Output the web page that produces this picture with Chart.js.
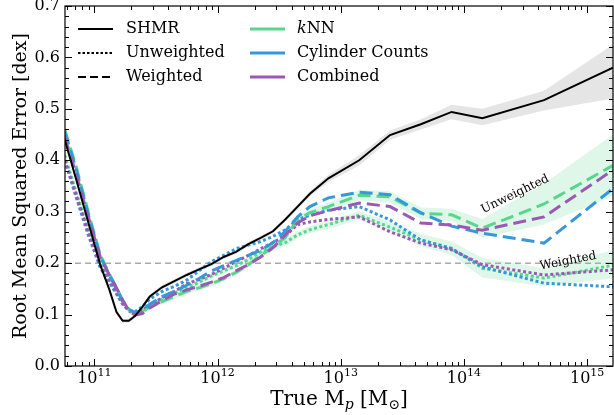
<!DOCTYPE html>
<html>
<head>
<meta charset="utf-8">
<script src="https://cdn.jsdelivr.net/npm/chart.js@4"></script>
<style>
  body { margin: 0; background: #fff; }
  #wrap { width: 614px; height: 415px; }
</style>
</head>
<body>
<div id="wrap"><canvas id="chart" width="614" height="415"></canvas></div>
<script>
// log10 of true mass (bin centres)
const logMass = [10.76, 10.85, 10.95, 11.05, 11.12, 11.18, 11.23, 11.28, 11.33, 11.39,
                 11.45, 11.55, 11.65, 11.75, 11.85, 11.95, 12.05, 12.15, 12.25, 12.35,
                 12.45, 12.55, 12.65, 12.75, 12.9, 13.15, 13.4, 13.65, 13.9, 14.15,
                 14.65, 15.21];

const shmr = [0.44, 0.365, 0.28, 0.195, 0.15, 0.105, 0.088, 0.088, 0.097, 0.115,
              0.135, 0.153, 0.165, 0.177, 0.188, 0.198, 0.212, 0.222, 0.237, 0.249,
              0.262, 0.285, 0.31, 0.335, 0.365, 0.40, 0.449, 0.47, 0.494, 0.482,
              0.517, 0.58];
const shmrLow = [0.436, 0.361, 0.276, 0.191, 0.146, 0.101, 0.084, 0.084, 0.093, 0.111,
                 0.131, 0.149, 0.161, 0.173, 0.184, 0.194, 0.208, 0.218, 0.233, 0.245,
                 0.258, 0.281, 0.305, 0.33, 0.358, 0.39, 0.44, 0.46, 0.48, 0.468,
                 0.497, 0.52];
const shmrHigh = [0.444, 0.369, 0.284, 0.199, 0.154, 0.109, 0.092, 0.092, 0.101, 0.119,
                  0.139, 0.157, 0.169, 0.181, 0.192, 0.202, 0.216, 0.226, 0.241, 0.253,
                  0.266, 0.289, 0.315, 0.34, 0.372, 0.41, 0.458, 0.48, 0.508, 0.50,
                  0.535, 0.625];

// weighted = dashed, unweighted = dotted
const knnWeighted = [0.46, 0.39, 0.30, 0.215, 0.18, 0.152, 0.128, 0.11, 0.102, 0.105,
                     0.115, 0.125, 0.135, 0.145, 0.152, 0.16, 0.17, 0.182, 0.197, 0.215,
                     0.232, 0.25, 0.285, 0.298, 0.31, 0.332, 0.329, 0.297, 0.294, 0.268,
                     0.315, 0.39];
const knnWeightedLow = [0.455, 0.385, 0.295, 0.21, 0.175, 0.147, 0.123, 0.105, 0.097, 0.1,
                        0.11, 0.12, 0.13, 0.14, 0.147, 0.155, 0.165, 0.177, 0.192, 0.21,
                        0.226, 0.244, 0.278, 0.291, 0.302, 0.322, 0.318, 0.286, 0.282, 0.25,
                        0.275, 0.33];
const knnWeightedHigh = [0.465, 0.395, 0.305, 0.22, 0.185, 0.157, 0.133, 0.115, 0.107, 0.11,
                         0.12, 0.13, 0.14, 0.15, 0.157, 0.165, 0.175, 0.187, 0.202, 0.22,
                         0.238, 0.256, 0.292, 0.305, 0.318, 0.342, 0.34, 0.308, 0.306, 0.286,
                         0.355, 0.45];
const knnUnweighted = [0.41, 0.34, 0.265, 0.2, 0.17, 0.145, 0.123, 0.108, 0.104, 0.108,
                       0.118, 0.13, 0.142, 0.152, 0.163, 0.175, 0.185, 0.195, 0.207, 0.222,
                       0.232, 0.24, 0.255, 0.265, 0.275, 0.293, 0.27, 0.245, 0.229, 0.19,
                       0.171, 0.196];
const knnUnweightedLow = [0.405, 0.335, 0.26, 0.195, 0.165, 0.14, 0.118, 0.103, 0.099, 0.103,
                          0.113, 0.125, 0.137, 0.147, 0.158, 0.17, 0.18, 0.19, 0.202, 0.216,
                          0.225, 0.233, 0.248, 0.258, 0.267, 0.285, 0.26, 0.233, 0.216, 0.172,
                          0.155, 0.17];
const knnUnweightedHigh = [0.415, 0.345, 0.27, 0.205, 0.175, 0.15, 0.128, 0.113, 0.109, 0.113,
                           0.123, 0.135, 0.147, 0.157, 0.168, 0.18, 0.19, 0.2, 0.212, 0.228,
                           0.239, 0.247, 0.262, 0.272, 0.283, 0.301, 0.28, 0.257, 0.242, 0.21,
                           0.19, 0.225];

const cylWeighted = [0.455, 0.385, 0.295, 0.212, 0.178, 0.15, 0.126, 0.11, 0.104, 0.108,
                     0.12, 0.135, 0.145, 0.157, 0.17, 0.185, 0.195, 0.205, 0.215, 0.225,
                     0.24, 0.262, 0.29, 0.31, 0.327, 0.338, 0.333, 0.298, 0.272, 0.258,
                     0.239, 0.345];
const cylUnweighted = [0.40, 0.33, 0.255, 0.19, 0.163, 0.14, 0.12, 0.108, 0.106, 0.115,
                       0.13, 0.145, 0.155, 0.167, 0.185, 0.203, 0.215, 0.228, 0.235, 0.242,
                       0.252, 0.265, 0.285, 0.293, 0.303, 0.31, 0.284, 0.245, 0.228, 0.193,
                       0.161, 0.154];

const combWeighted = [0.445, 0.375, 0.29, 0.21, 0.178, 0.152, 0.128, 0.108, 0.099, 0.102,
                      0.113, 0.127, 0.14, 0.148, 0.155, 0.163, 0.172, 0.185, 0.197, 0.212,
                      0.23, 0.255, 0.278, 0.292, 0.302, 0.317, 0.31, 0.278, 0.274, 0.264,
                      0.29, 0.381];
const combUnweighted = [0.40, 0.335, 0.26, 0.195, 0.167, 0.143, 0.122, 0.107, 0.102, 0.108,
                        0.118, 0.133, 0.145, 0.16, 0.168, 0.178, 0.19, 0.203, 0.215, 0.228,
                        0.24, 0.253, 0.275, 0.28, 0.285, 0.29, 0.261, 0.239, 0.226, 0.197,
                        0.177, 0.187];

const refLevel = 0.2;
const yTicks = [0, 0.1, 0.2, 0.3, 0.4, 0.5, 0.6, 0.7];
const yTickLabels = ['0.0', '0.1', '0.2', '0.3', '0.4', '0.5', '0.6', '0.7'];
const xTickExps = [11, 12, 13, 14, 15];
const xMinLog = 10.762, xMaxLog = 15.21;

const GREEN = '#58d68d', BLUE = '#3498db', PURPLE = '#9b59b6';
const DASH = [13, 6], DOT = [3, 2.5];
const SERIF = '"DejaVu Serif", serif';

const pts = arr => arr.map((v, i) => ({ x: Math.pow(10, logMass[i]), y: v }));

function line(arr, color, dash, width, order) {
    return {
        data: pts(arr), borderColor: color, borderDash: dash, borderWidth: width,
        pointRadius: 0, fill: false, tension: 0, order: order
    };
}
function bandEdge(arr, fillColor) {
    return {
        data: pts(arr), borderWidth: 0, pointRadius: 0, tension: 0, order: 50,
        fill: fillColor ? '-1' : false, backgroundColor: fillColor || 'transparent'
    };
}

const overlay = {
    id: 'overlay',
    afterDraw(chart) {
        const ctx = chart.ctx, a = chart.chartArea;
        const xs = chart.scales.x, ys = chart.scales.y;
        ctx.save();
        ctx.strokeStyle = '#000';
        ctx.lineWidth = 1.2;
        ctx.strokeRect(a.left, a.top, a.right - a.left, a.bottom - a.top);

        // y ticks
        ctx.lineWidth = 1;
        ctx.beginPath();
        for (let k = 0; k <= 35; k++) {
            const v = k * 0.02;
            const py = Math.round(ys.getPixelForValue(v)) + 0.5;
            const len = (k % 5 === 0) ? 7 : 4;
            ctx.moveTo(a.left, py); ctx.lineTo(a.left + len, py);
            ctx.moveTo(a.right, py); ctx.lineTo(a.right - len, py);
        }
        // x ticks
        for (let e = 10; e <= 15; e++) {
            for (let m = 1; m <= 9; m++) {
                const lv = e + Math.log10(m);
                if (lv < xMinLog || lv > xMaxLog) continue;
                const px = Math.round(xs.getPixelForValue(Math.pow(10, lv))) + 0.5;
                const len = (m === 1) ? 7 : 4;
                ctx.moveTo(px, a.bottom); ctx.lineTo(px, a.bottom - len);
                ctx.moveTo(px, a.top); ctx.lineTo(px, a.top + len);
            }
        }
        ctx.stroke();

        ctx.fillStyle = '#000';
        // y labels
        ctx.font = '16px ' + SERIF;
        ctx.textAlign = 'right';
        ctx.textBaseline = 'middle';
        yTicks.forEach((v, i) => ctx.fillText(yTickLabels[i], a.left - 5, ys.getPixelForValue(v)));

        // x labels 10^n
        ctx.textAlign = 'left';
        ctx.textBaseline = 'alphabetic';
        xTickExps.forEach(e => {
            const px = xs.getPixelForValue(Math.pow(10, e));
            ctx.font = '16px ' + SERIF;
            const w1 = ctx.measureText('10').width;
            ctx.font = '11px ' + SERIF;
            const w2 = ctx.measureText(String(e)).width;
            const x0 = px - (w1 + w2) / 2;
            ctx.font = '16px ' + SERIF;
            ctx.fillText('10', x0, a.bottom + 17);
            ctx.font = '11px ' + SERIF;
            ctx.fillText(String(e), x0 + w1, a.bottom + 10);
        });

        // y title
        ctx.save();
        ctx.translate(21, (a.top + a.bottom) / 2);
        ctx.rotate(-Math.PI / 2);
        ctx.font = '19px ' + SERIF;
        ctx.textAlign = 'center';
        ctx.textBaseline = 'middle';
        ctx.fillText('Root Mean Squared Error [dex]', 0, 0);
        ctx.restore();

        // x title: True M_p [M_sun]
        const parts = [
            ['True M', '20px ' + SERIF, 0],
            ['p', 'italic 14px ' + SERIF, 4],
            [' [M', '20px ' + SERIF, 0],
            ['⊙', '14px ' + SERIF, 4],
            [']', '20px ' + SERIF, 0]
        ];
        let tw = 0;
        parts.forEach(p => { ctx.font = p[1]; tw += ctx.measureText(p[0]).width; });
        let tx = (a.left + a.right) / 2 - tw / 2;
        const tb = a.bottom + 39;
        parts.forEach(p => {
            ctx.font = p[1];
            ctx.fillText(p[0], tx, tb + p[2]);
            tx += ctx.measureText(p[0]).width;
        });

        // legend
        const rows = [29, 53, 77];
        const col1 = [['SHMR', '#000', [], 2], ['Unweighted', '#000', [2.5, 2], 2.2], ['Weighted', '#000', [8, 4], 2.2]];
        const col2 = [['kNN', GREEN, [], 3], ['Cylinder Counts', BLUE, [], 3], ['Combined', PURPLE, [], 3]];
        const drawCol = (items, x0, x1, tx0) => {
            items.forEach((it, i) => {
                const y = rows[i];
                ctx.beginPath();
                ctx.strokeStyle = it[1];
                ctx.setLineDash(it[2]);
                ctx.lineWidth = it[3];
                ctx.moveTo(x0, y); ctx.lineTo(x1, y);
                ctx.stroke();
                ctx.setLineDash([]);
                ctx.textBaseline = 'middle';
                ctx.textAlign = 'left';
                ctx.fillStyle = '#000';
                if (it[0] === 'kNN') {
                    ctx.font = 'italic 16px ' + SERIF;
                    ctx.fillText('k', tx0, y);
                    const kw = ctx.measureText('k').width;
                    ctx.font = '16px ' + SERIF;
                    ctx.fillText('NN', tx0 + kw, y);
                } else {
                    ctx.font = '16px ' + SERIF;
                    ctx.fillText(it[0], tx0, y);
                }
            });
        };
        drawCol(col1, 78, 113, 126);
        drawCol(col2, 250, 285, 297);

        // in-plot annotations
        const note = (txt, lx, yv, ang) => {
            ctx.save();
            ctx.translate(xs.getPixelForValue(Math.pow(10, lx)), ys.getPixelForValue(yv));
            ctx.rotate(ang * Math.PI / 180);
            ctx.font = '12px ' + SERIF;
            ctx.textAlign = 'center';
            ctx.textBaseline = 'middle';
            ctx.fillStyle = '#000';
            ctx.fillText(txt, 0, 0);
            ctx.restore();
        };
        note('Unweighted', 14.415, 0.334, -26);
        note('Weighted', 14.845, 0.204, -11);
        ctx.restore();
    }
};

new Chart(document.getElementById('chart'), {
    type: 'line',
    data: {
        datasets: [
            line(shmr, '#000', [], 2, 1),
            line(combWeighted, PURPLE, DASH, 3, 2),
            line(cylWeighted, BLUE, DASH, 3, 3),
            line(knnWeighted, GREEN, DASH, 3, 4),
            line(combUnweighted, PURPLE, DOT, 3, 5),
            line(cylUnweighted, BLUE, DOT, 3, 6),
            line(knnUnweighted, GREEN, DOT, 3, 7),
            {
                data: [{ x: Math.pow(10, xMinLog), y: refLevel }, { x: Math.pow(10, xMaxLog), y: refLevel }],
                borderColor: '#aaaaaa', borderDash: [6, 4], borderWidth: 1.5, pointRadius: 0, order: 8
            },
            bandEdge(shmrLow),
            bandEdge(shmrHigh, 'rgba(190,190,190,0.4)'),
            bandEdge(knnWeightedLow),
            bandEdge(knnWeightedHigh, 'rgba(88,214,141,0.2)'),
            bandEdge(knnUnweightedLow),
            bandEdge(knnUnweightedHigh, 'rgba(88,214,141,0.2)')
        ]
    },
    options: {
        responsive: false,
        animation: false,
        devicePixelRatio: 1,
        layout: { padding: { top: 6, right: 1, left: 0, bottom: 0 } },
        plugins: { legend: { display: false }, tooltip: { enabled: false } },
        scales: {
            x: {
                type: 'logarithmic',
                min: Math.pow(10, xMinLog), max: Math.pow(10, xMaxLog),
                ticks: { display: false }, grid: { display: false }, border: { display: false },
                afterFit: s => { s.height = 49; }
            },
            y: {
                min: 0, max: 0.7,
                ticks: { display: false }, grid: { display: false }, border: { display: false },
                afterFit: s => { s.width = 65; }
            }
        }
    },
    plugins: [overlay]
});
</script>
</body>
</html>
